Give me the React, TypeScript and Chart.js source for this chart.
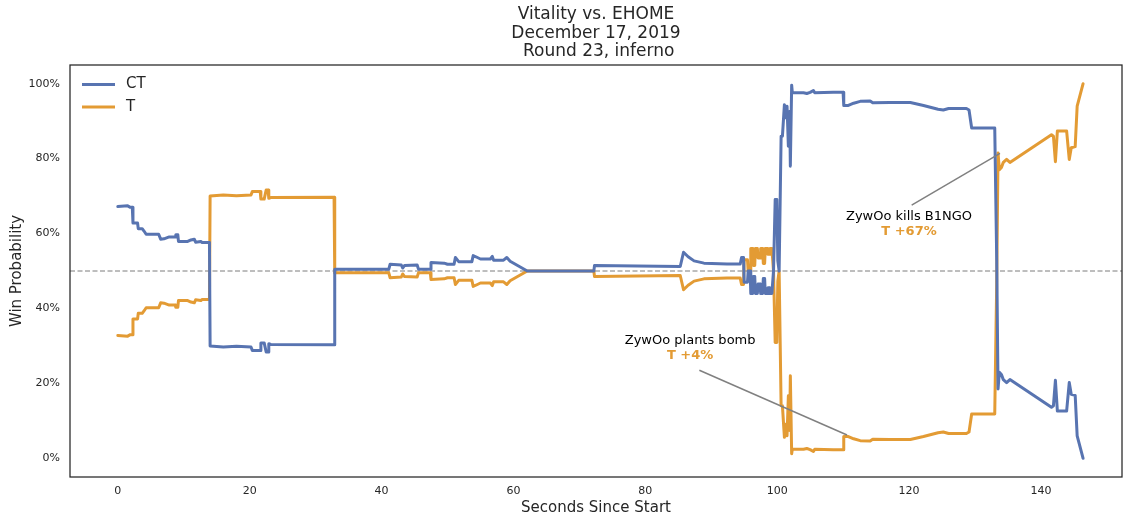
import React, { useEffect, useRef } from "react";
import { Chart, registerables } from "chart.js";

Chart.register(...registerables);

const titleLines = ["Vitality vs. EHOME", "December 17, 2019", " Round 23, inferno"];
const seriesNames = ["CT", "T"];
const xTickValues = [0, 20, 40, 60, 80, 100, 120, 140];
const yTickValues = [0, 20, 40, 60, 80, 100];

const seconds = [
  0.0, 1.5, 1.9, 2.2, 2.3, 3.0, 3.1, 3.7, 4.0, 4.3, 6.2, 6.5, 7.0, 7.8, 8.7, 8.8, 9.1, 9.2, 10.6, 11.1, 11.6, 11.8, 12.6, 12.8, 13.9,
  14.0, 16.0, 18.0, 20.2, 20.4, 21.6, 21.7, 22.2, 22.5, 22.8, 22.9, 23.2, 32.8,
  32.9, 41.1, 41.3, 43.0, 43.2, 43.5, 45.4, 45.6, 47.4, 47.5, 49.5, 50.0, 51.0, 51.2, 51.7, 53.7, 53.9, 54.3, 55.0, 56.5, 56.8, 57.0, 58.5, 59.0, 59.5, 62.1, 72.2,
  72.3, 85.3, 85.8, 86.5, 87.4, 88.9, 92.4, 94.4,
  94.6, 94.9, 95.0, 95.5, 95.6, 95.9, 96.0, 96.3, 96.4, 96.6, 96.7, 97.0, 97.1, 97.4, 97.5, 97.8, 97.9, 98.1, 98.2, 98.5, 98.6, 98.8, 98.9, 99.2,
  99.45, 99.7, 99.95, 100.1, 100.3, 100.6, 100.8, 101.1, 101.3, 101.5, 101.7, 101.9, 102.0, 102.2,
  102.3, 104.0, 104.5, 105.0, 105.5, 105.7, 108.5, 110.0, 110.1, 110.8, 111.6, 112.6, 114.1, 114.5, 117.1, 120.2, 122.2, 124.4, 125.2, 126.0, 128.7, 129.1, 129.5, 133.0,
  133.3, 133.5, 133.7, 134.0, 134.3, 134.8, 135.3, 141.6, 141.9, 142.2, 142.5, 143.9, 144.3, 144.6, 145.2, 145.5, 146.4,
];

const ctProb = [
  67.2, 67.4, 67.0, 67.0, 62.8, 62.8, 61.3, 61.3, 60.6, 59.8, 59.8, 58.5, 58.6, 59.1, 59.1, 59.7, 59.7, 57.9, 57.9, 58.3, 58.5, 57.7, 57.9, 57.6, 57.6,
  30.0, 29.7, 29.9, 29.7, 28.8, 28.8, 30.8, 30.8, 28.4, 28.4, 30.6, 30.4, 30.3,
  50.5, 50.5, 51.8, 51.6, 50.8, 51.5, 51.6, 50.5, 50.5, 52.3, 52.1, 51.8, 51.8, 53.6, 52.5, 52.5, 54.1, 53.8, 53.2, 53.2, 53.9, 52.9, 52.9, 53.6, 52.6, 50.0, 50.0,
  51.5, 51.2, 55.0, 53.8, 52.7, 52.1, 51.9, 51.9,
  53.6, 53.6, 47.0, 47.0, 50.0, 50.0, 44.0, 44.0, 48.5, 48.5, 44.0, 44.0, 46.5, 46.5, 44.0, 44.0, 48.0, 48.0, 44.0, 44.0, 45.5, 45.5, 44.0, 44.0,
  50.1, 69.1, 69.1, 52.7, 50.0, 86.0, 86.0, 94.4, 90.9, 94.0, 83.3, 92.6, 78.0, 99.6,
  97.6, 97.6, 97.4, 97.7, 98.2, 97.6, 97.7, 97.7, 94.2, 94.2, 94.8, 95.3, 95.4, 94.9, 95.0, 95.0, 94.2, 93.2, 93.0, 93.4, 93.4, 93.0, 88.2, 88.2,
  53.0, 18.5, 23.0, 22.4, 21.0, 20.2, 21.0, 13.6, 14.0, 20.8, 12.6, 12.6, 20.2, 17.1, 16.8, 6.0, 0.0,
];

const tProb = [
  32.8, 32.6, 33.0, 33.0, 37.2, 37.2, 38.7, 38.7, 39.4, 40.2, 40.2, 41.5, 41.4, 40.9, 40.9, 40.3, 40.3, 42.1, 42.1, 41.7, 41.5, 42.3, 42.1, 42.4, 42.4,
  70.0, 70.3, 70.1, 70.3, 71.2, 71.2, 69.2, 69.2, 71.6, 71.6, 69.4, 69.6, 69.7,
  49.5, 49.5, 48.2, 48.4, 49.2, 48.5, 48.4, 49.5, 49.5, 47.7, 47.9, 48.2, 48.2, 46.4, 47.5, 47.5, 45.9, 46.2, 46.8, 46.8, 46.1, 47.1, 47.1, 46.4, 47.4, 50.0, 50.0,
  48.5, 48.8, 45.0, 46.2, 47.3, 47.9, 48.1, 48.1,
  46.4, 46.4, 53.0, 53.0, 50.0, 50.0, 56.0, 56.0, 51.5, 51.5, 56.0, 56.0, 53.5, 53.5, 56.0, 56.0, 52.0, 52.0, 56.0, 56.0, 54.5, 54.5, 56.0, 56.0,
  49.9, 30.9, 30.9, 47.3, 50.0, 14.0, 14.0, 5.6, 9.1, 6.0, 16.7, 7.4, 22.0, 1.2,
  2.4, 2.4, 2.6, 2.3, 1.8, 2.4, 2.3, 2.3, 5.8, 5.8, 5.2, 4.7, 4.6, 5.1, 5.0, 5.0, 5.8, 6.8, 7.0, 6.6, 6.6, 7.0, 11.8, 11.8,
  47.0, 81.5, 77.0, 77.6, 79.0, 79.8, 79.0, 86.4, 86.0, 79.2, 87.4, 87.4, 79.8, 82.9, 83.2, 94.0, 100.0,
];

// annotations (data coordinates)
const noteLabels = ["ZywOo plants bomb", "ZywOo kills B1NGO"];
const noteDeltas = ["T +4%", "T +67%"];
const noteTextX = [86.8, 120.0];
const noteTextY = [31.5, 64.5];
const noteFromX = [88.2, 120.4];
const noteFromY = [23.5, 67.6];
const noteToX = [110.6, 133.8];
const noteToY = [6.2, 81.4];

const CT_COLOR = "#5874b1";
const T_COLOR = "#e39b34";
const TEXT_COLOR = "#262626";
const FONT = "'DejaVu Sans', sans-serif";

const decorPlugin = {
  id: "decor",
  beforeDatasetsDraw(chart: any) {
    const { ctx, chartArea: a, scales } = chart;
    const yy = scales.y.getPixelForValue(50);
    ctx.save();
    ctx.strokeStyle = "#6e6e6e";
    ctx.lineWidth = 0.9;
    ctx.setLineDash([5, 2.5]);
    ctx.beginPath();
    ctx.moveTo(a.left, yy);
    ctx.lineTo(a.right, yy);
    ctx.stroke();
    ctx.restore();
  },
  afterDatasetsDraw(chart: any) {
    const { ctx, chartArea: a, scales } = chart;
    const x = scales.x;
    const y = scales.y;
    ctx.save();
    // annotation arrows
    ctx.strokeStyle = "#808080";
    ctx.lineWidth = 1.5;
    for (let i = 0; i < noteLabels.length; i++) {
      ctx.beginPath();
      ctx.moveTo(x.getPixelForValue(noteFromX[i]), y.getPixelForValue(noteFromY[i]));
      ctx.lineTo(x.getPixelForValue(noteToX[i]), y.getPixelForValue(noteToY[i]));
      ctx.stroke();
    }
    // annotation texts
    ctx.textAlign = "center";
    ctx.textBaseline = "middle";
    for (let i = 0; i < noteLabels.length; i++) {
      const px = x.getPixelForValue(noteTextX[i]);
      const py = y.getPixelForValue(noteTextY[i]);
      ctx.fillStyle = "#000";
      ctx.font = `13px ${FONT}`;
      ctx.fillText(noteLabels[i], px, py);
      ctx.fillStyle = T_COLOR;
      ctx.font = `bold 13px ${FONT}`;
      ctx.fillText(noteDeltas[i], px, py + 15);
    }
    // frame
    ctx.strokeStyle = TEXT_COLOR;
    ctx.lineWidth = 1.25;
    ctx.strokeRect(a.left, a.top, a.right - a.left, a.bottom - a.top);
    // legend
    const colors = [CT_COLOR, T_COLOR];
    ctx.lineWidth = 3;
    ctx.textAlign = "left";
    ctx.font = `15px ${FONT}`;
    for (let i = 0; i < seriesNames.length; i++) {
      const ly = a.top + 19.5 + i * 22.5;
      ctx.strokeStyle = colors[i];
      ctx.beginPath();
      ctx.moveTo(a.left + 12, ly);
      ctx.lineTo(a.left + 45, ly);
      ctx.stroke();
      ctx.fillStyle = TEXT_COLOR;
      ctx.fillText(seriesNames[i], a.left + 56, ly);
    }
    // title
    ctx.textAlign = "center";
    ctx.fillStyle = TEXT_COLOR;
    ctx.font = `17px ${FONT}`;
    const cx = (a.left + a.right) / 2;
    for (let i = 0; i < titleLines.length; i++) {
      ctx.fillText(titleLines[i], cx, 15 + i * 18.5);
    }
    ctx.restore();
  },
};

export default function App() {
  const canvasRef = useRef<HTMLCanvasElement | null>(null);

  useEffect(() => {
    const canvas = canvasRef.current;
    if (!canvas) return;
    const ctData = seconds.map((s, i) => ({ x: s, y: ctProb[i] }));
    const tData = seconds.map((s, i) => ({ x: s, y: tProb[i] }));
    const chart = new Chart(canvas, {
      type: "line",
      data: {
        datasets: [
          {
            label: seriesNames[0],
            data: ctData,
            borderColor: CT_COLOR,
            borderWidth: 3,
            pointRadius: 0,
            tension: 0,
            borderJoinStyle: "round",
            borderCapStyle: "round",
          },
          {
            label: seriesNames[1],
            data: tData,
            borderColor: T_COLOR,
            borderWidth: 3,
            pointRadius: 0,
            tension: 0,
            borderJoinStyle: "round",
            borderCapStyle: "round",
          },
        ],
      },
      options: {
        responsive: false,
        animation: false,
        layout: { padding: { left: 0, right: 3, top: 65, bottom: 0 } },
        plugins: {
          legend: { display: false },
          tooltip: { enabled: false },
          title: { display: false },
        },
        scales: {
          x: {
            type: "linear",
            min: -7.25,
            max: 152.3,
            grid: { display: false, drawTicks: false },
            border: { display: false },
            afterBuildTicks: (scale: any) => {
              scale.ticks = xTickValues.map((v) => ({ value: v }));
            },
            afterFit: (scale: any) => {
              scale.height = 42;
            },
            ticks: {
              padding: 8,
              color: TEXT_COLOR,
              font: { family: FONT, size: 11 },
              maxRotation: 0,
              autoSkip: false,
            },
            title: {
              display: true,
              text: "Seconds Since Start",
              color: TEXT_COLOR,
              font: { family: FONT, size: 15 },
              padding: { top: 0, bottom: 2 },
            },
          },
          y: {
            type: "linear",
            min: -5,
            max: 105,
            grid: { display: false, drawTicks: false },
            border: { display: false },
            afterBuildTicks: (scale: any) => {
              scale.ticks = yTickValues.map((v) => ({ value: v }));
            },
            afterFit: (scale: any) => {
              scale.width = 70;
            },
            ticks: {
              padding: 10,
              color: TEXT_COLOR,
              font: { family: FONT, size: 11 },
              callback: (v: any) => `${v}%`,
              autoSkip: false,
            },
            title: {
              display: true,
              text: "Win Probability",
              color: TEXT_COLOR,
              font: { family: FONT, size: 15 },
              padding: { top: 8, bottom: 0 },
            },
          },
        },
      },
      plugins: [decorPlugin],
    } as any);
    return () => chart.destroy();
  }, []);

  return (
    <div style={{ position: "fixed", left: 0, top: 0, width: 1125, height: 519, background: "#fff" }}>
      <canvas ref={canvasRef} width={1125} height={519} style={{ width: 1125, height: 519 }} />
    </div>
  );
}
